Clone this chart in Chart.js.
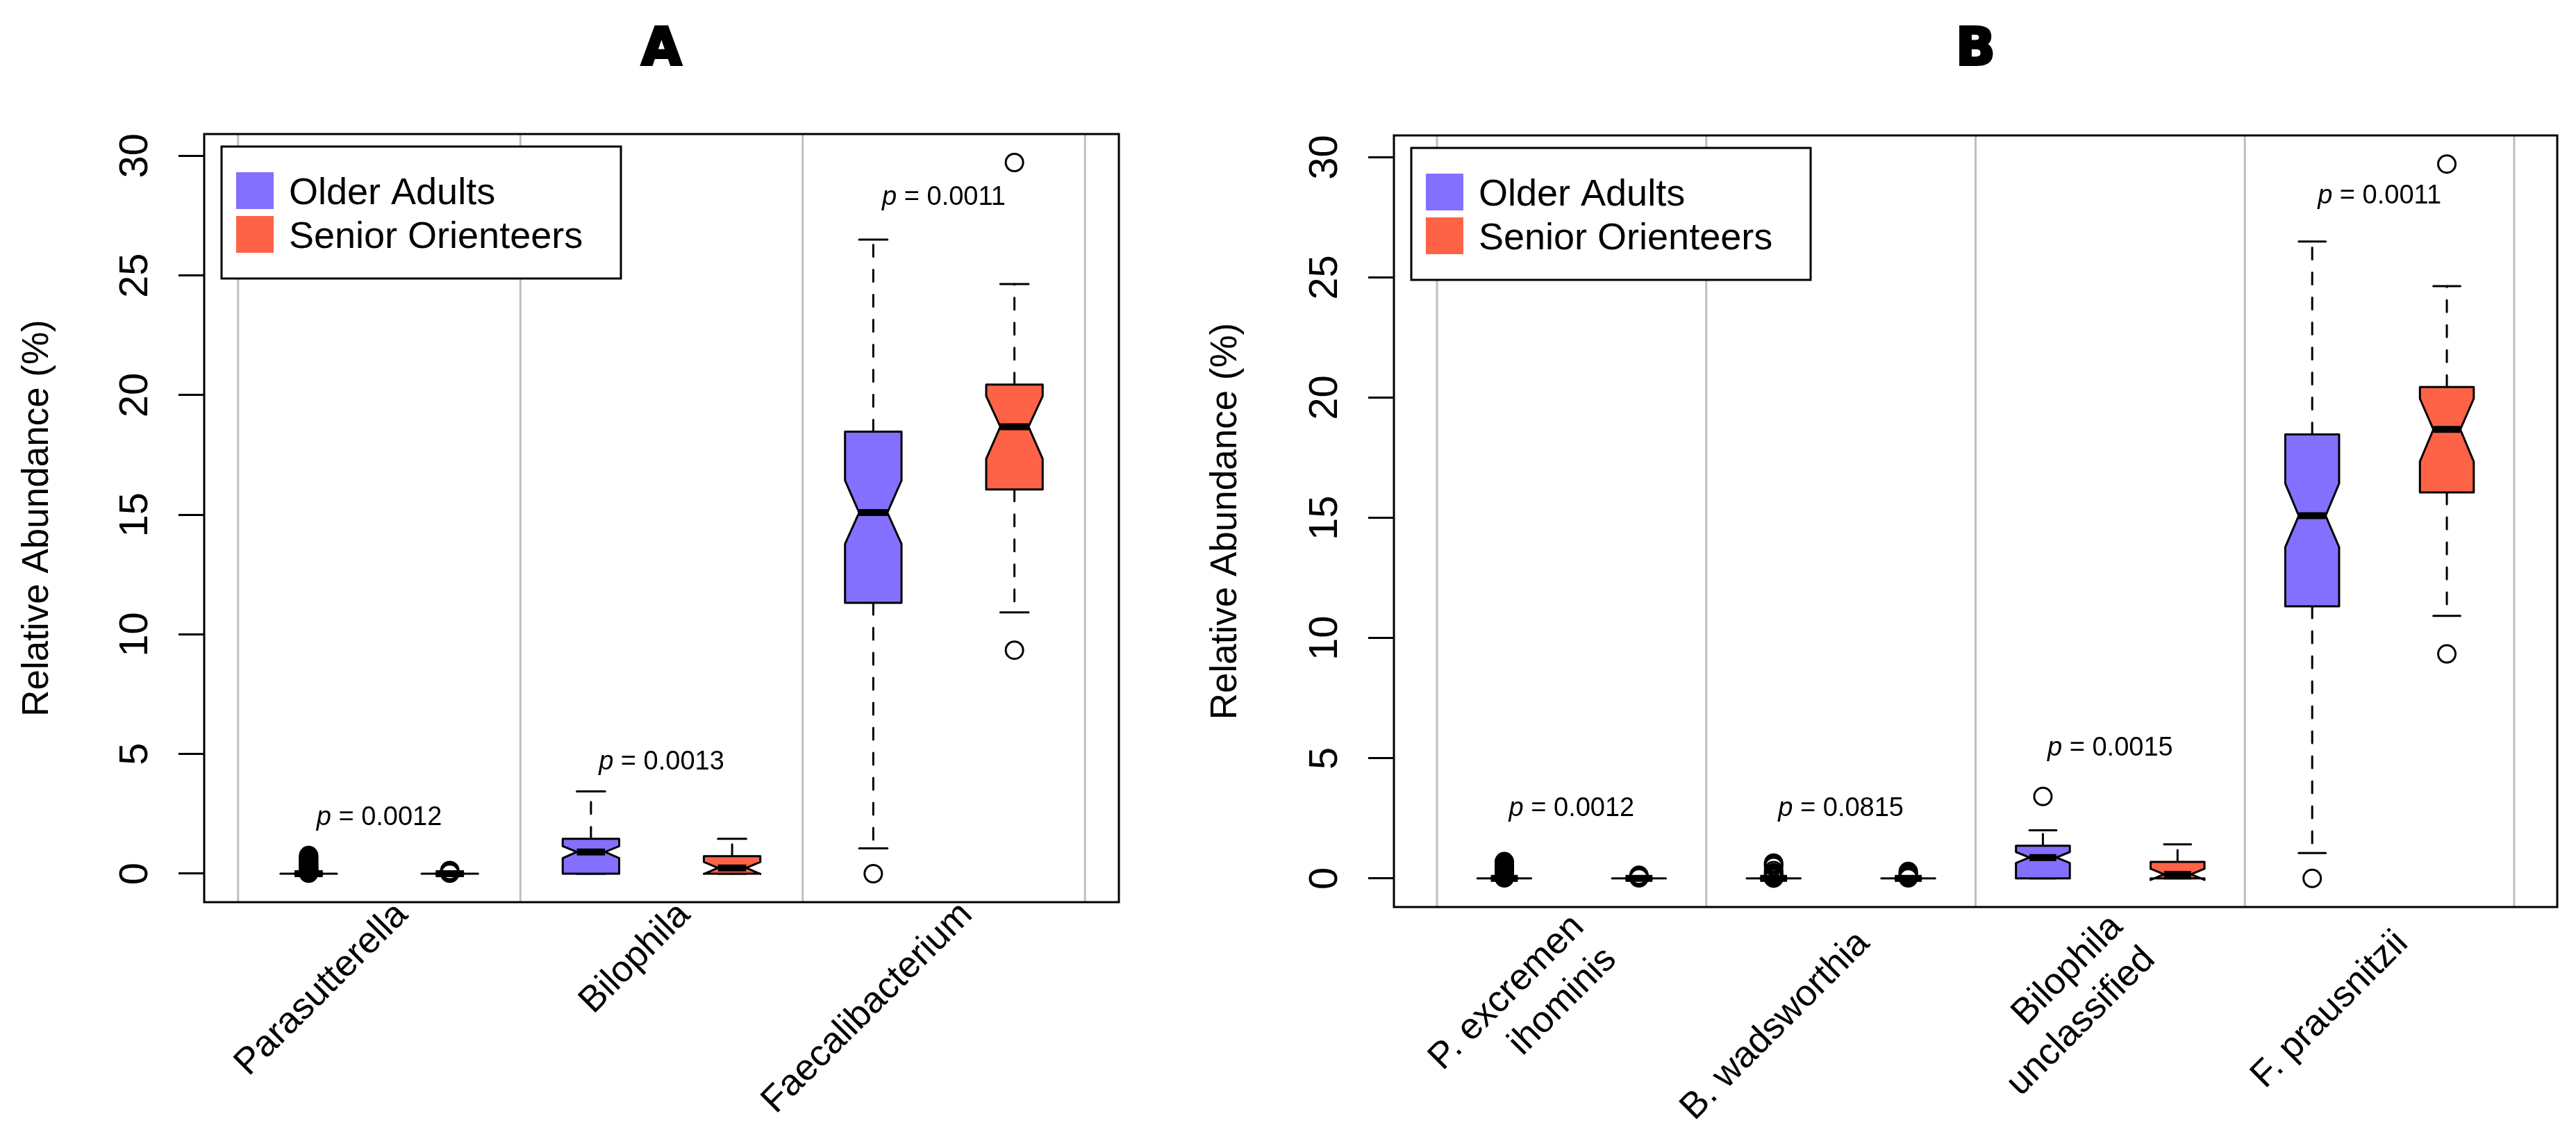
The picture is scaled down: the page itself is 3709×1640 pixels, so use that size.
<!DOCTYPE html>
<html>
<head>
<meta charset="utf-8">
<script src="https://cdn.jsdelivr.net/npm/chart.js@4.4.1/dist/chart.umd.min.js"></script>
<style>
  html, body { margin: 0; padding: 0; background: #fff; }
  body { width: 3709px; height: 1640px; position: relative; overflow: hidden; }
  canvas { position: absolute; top: 0; }
</style>
</head>
<body>
<canvas id="panelA" width="1700" height="1640" style="left:0px"></canvas>
<canvas id="panelB" width="2009" height="1640" style="left:1700px"></canvas>
<script>
// Notched boxplots of relative abundance, two panels (A: genera, B: species)

const seriesNames = ["Older Adults", "Senior Orienteers"];
const seriesColors = ["#8470ff", "#ff6347"];
const yTicks = [0, 5, 10, 15, 20, 25, 30];
const yLimits = [-1.19, 30.91];

// each box: [lower whisker, Q1, notch low, median, notch high, Q3, upper whisker]
const labelsA = ["Parasutterella", "Bilophila", "Faecalibacterium"];
const olderBoxA = [
  [0, 0, 0, 0, 0, 0, 0],
  [0, 0, 0.65, 0.91, 1.15, 1.46, 3.44],
  [1.06, 11.32, 13.78, 15.09, 16.43, 18.47, 26.5],
];
const seniorBoxA = [
  [0, 0, 0, 0, 0, 0, 0],
  [0, 0, -0.01, 0.24, 0.49, 0.73, 1.46],
  [10.92, 16.06, 17.34, 18.68, 19.96, 20.44, 24.64],
];
const olderOutA = [
  [0.02, 0.05, 0.08, 0.11, 0.15, 0.19, 0.24, 0.29, 0.34, 0.4, 0.46, 0.52, 0.58, 0.64, 0.7, 0.76],
  [],
  [0],
];
const seniorOutA = [[0.02, 0.07, 0.13], [], [9.34, 29.72]];
const pValuesA = ["0.0012", "0.0013", "0.0011"];
const pHeightsA = [2.35, 4.65, 28.26];

const labelsB = [["P. excremen", "ihominis"], "B. wadsworthia", ["Bilophila", "unclassified"], "F. prausnitzii"];
const olderBoxB = [
  [0, 0, 0, 0, 0, 0, 0],
  [0, 0, 0, 0, 0, 0, 0],
  [0, 0, 0.64, 0.87, 1.1, 1.36, 2.0],
  [1.06, 11.32, 13.78, 15.09, 16.43, 18.47, 26.5],
];
const seniorBoxB = [
  [0, 0, 0, 0, 0, 0, 0],
  [0, 0, 0, 0, 0, 0, 0],
  [0, 0, -0.06, 0.17, 0.4, 0.69, 1.42],
  [10.92, 16.06, 17.34, 18.68, 19.96, 20.44, 24.64],
];
const olderOutB = [
  [0.02, 0.05, 0.08, 0.11, 0.15, 0.19, 0.24, 0.29, 0.34, 0.4, 0.46, 0.52, 0.58, 0.64, 0.7],
  [0.01, 0.04, 0.08, 0.12, 0.17, 0.23, 0.33, 0.5, 0.58, 0.64],
  [3.41],
  [0],
];
const seniorOutB = [[0.02, 0.07, 0.13], [0.02, 0.08, 0.15, 0.22, 0.29], [], [9.34, 29.72]];
const pValuesB = ["0.0012", "0.0815", "0.0015", "0.0011"];
const pHeightsB = [2.89, 2.89, 5.4, 28.38];

const FONT = "'Liberation Sans', Arial, Helvetica, sans-serif";
const boxOffsets = [0.25, 0.75];
const boxHalf = 0.1;

Chart.defaults.font.family = FONT;
Chart.defaults.color = "#000";

function line(ctx, x1, y1, x2, y2) {
  ctx.beginPath();
  ctx.moveTo(x1, y1);
  ctx.lineTo(x2, y2);
  ctx.stroke();
}

// one notched box with dashed whiskers and staples
function drawBox(ctx, xs, ys, center, s, color) {
  const [wlo, q1, nlo, med, nhi, q3, whi] = s;
  const y = (v) => ys.getPixelForValue(v);
  const xc = xs.getPixelForValue(center);
  const xl = xs.getPixelForValue(center - boxHalf);
  const xr = xs.getPixelForValue(center + boxHalf);
  const il = xs.getPixelForValue(center - boxHalf / 2);
  const ir = xs.getPixelForValue(center + boxHalf / 2);

  ctx.strokeStyle = "#000";
  ctx.lineWidth = 3;
  ctx.lineCap = "round";
  ctx.setLineDash([17, 19]);
  line(ctx, xc, y(q3), xc, y(whi));
  line(ctx, xc, y(q1), xc, y(wlo));
  ctx.setLineDash([]);
  line(ctx, il, y(whi), ir, y(whi));
  line(ctx, il, y(wlo), ir, y(wlo));

  ctx.lineJoin = "round";
  ctx.beginPath();
  ctx.moveTo(xl, y(q1));
  ctx.lineTo(xl, y(nlo));
  ctx.lineTo(il, y(med));
  ctx.lineTo(xl, y(nhi));
  ctx.lineTo(xl, y(q3));
  ctx.lineTo(xr, y(q3));
  ctx.lineTo(xr, y(nhi));
  ctx.lineTo(ir, y(med));
  ctx.lineTo(xr, y(nlo));
  ctx.lineTo(xr, y(q1));
  ctx.closePath();
  ctx.fillStyle = color;
  ctx.fill();
  ctx.stroke();

  ctx.lineCap = "butt";
  ctx.lineWidth = 10;
  line(ctx, il, y(med), ir, y(med));
}

function panelPlugin(cfg) {
  return {
    id: "panel" + cfg.title,
    beforeDatasetsDraw(chart) {
      const { ctx, chartArea, scales } = chart;
      ctx.save();
      ctx.strokeStyle = "#bebebe";
      ctx.lineWidth = 3;
      for (let g = 0; g <= cfg.labels.length; g++) {
        const px = scales.x.getPixelForValue(g);
        line(ctx, px, chartArea.top, px, chartArea.bottom);
      }
      [cfg.older, cfg.senior].forEach((boxes, si) => {
        boxes.forEach((s, gi) => drawBox(ctx, scales.x, scales.y, gi + boxOffsets[si], s, seriesColors[si]));
      });
      ctx.restore();
    },
    afterDraw(chart) {
      const { ctx, chartArea, scales } = chart;
      const xs = scales.x, ys = scales.y;
      ctx.save();

      // frame
      ctx.strokeStyle = "#000";
      ctx.lineWidth = 3;
      ctx.strokeRect(chartArea.left, chartArea.top, chartArea.right - chartArea.left, chartArea.bottom - chartArea.top);

      // p-values
      ctx.fillStyle = "#000";
      ctx.textBaseline = "middle";
      ctx.textAlign = "left";
      cfg.pValues.forEach((p, g) => {
        const px = xs.getPixelForValue(g + 0.5);
        const py = ys.getPixelForValue(cfg.pHeights[g]);
        const rest = " = " + p;
        ctx.font = "italic 38px " + FONT;
        const w1 = ctx.measureText("p").width;
        ctx.font = "38px " + FONT;
        const w2 = ctx.measureText(rest).width;
        const start = px - (w1 + w2) / 2;
        ctx.font = "italic 38px " + FONT;
        ctx.fillText("p", start, py);
        ctx.font = "38px " + FONT;
        ctx.fillText(rest, start + w1, py);
      });

      // legend
      const lx = chartArea.left + 25, ly = chartArea.top + 18;
      ctx.fillStyle = "#fff";
      ctx.fillRect(lx, ly, 575, 190);
      ctx.strokeRect(lx, ly, 575, 190);
      ctx.font = "54px " + FONT;
      seriesNames.forEach((name, i) => {
        ctx.fillStyle = seriesColors[i];
        ctx.fillRect(lx + 21, ly + 37 + i * 63, 54, 53);
        ctx.fillStyle = "#000";
        ctx.fillText(name, lx + 97, ly + 68 + i * 63);
      });

      // rotated y tick labels
      ctx.font = "58px " + FONT;
      ctx.textAlign = "center";
      ctx.textBaseline = "alphabetic";
      ys.ticks.forEach((t) => {
        ctx.save();
        ctx.translate(chartArea.left - 82, ys.getPixelForValue(t.value));
        ctx.rotate(-Math.PI / 2);
        ctx.fillText(String(t.value), 0, 0);
        ctx.restore();
      });

      // category labels at 45 degrees
      ctx.font = "53px " + FONT;
      ctx.textAlign = "right";
      ctx.textBaseline = "middle";
      cfg.labels.forEach((lab, g) => {
        const lines = Array.isArray(lab) ? lab : [lab];
        ctx.save();
        ctx.translate(xs.getPixelForValue(g + 0.5) + 33, chartArea.bottom + cfg.labelDrop);
        ctx.rotate(-Math.PI / 4);
        lines.forEach((txt, i) => ctx.fillText(txt, 0, (i - (lines.length - 1) / 2) * 66));
        ctx.restore();
      });

      // panel letter, heavy face
      ctx.font = "bold 74px 'DejaVu Sans', " + FONT;
      ctx.textAlign = "center";
      ctx.lineWidth = 4;
      ctx.lineJoin = "miter";
      const tx = (chartArea.left + chartArea.right) / 2;
      ctx.fillText(cfg.title, tx, 74);
      ctx.strokeText(cfg.title, tx, 74);
      ctx.restore();
    },
  };
}

function outlierPoints(lists, si) {
  return lists.flatMap((vals, gi) => vals.map((v) => ({ x: gi + boxOffsets[si], y: v })));
}

function buildPanel(canvasId, cfg) {
  const datasets = [cfg.olderOut, cfg.seniorOut].map((lists, si) => ({
    label: seriesNames[si],
    data: outlierPoints(lists, si),
    pointStyle: "circle",
    pointRadius: 12.5,
    pointBorderWidth: 3,
    pointBorderColor: "#000",
    pointBackgroundColor: "rgba(0,0,0,0)",
    showLine: false,
  }));

  return new Chart(document.getElementById(canvasId), {
    type: "scatter",
    data: { datasets: datasets },
    options: {
      responsive: false,
      animation: false,
      devicePixelRatio: 1,
      layout: { padding: cfg.padding },
      plugins: { legend: { display: false }, tooltip: { enabled: false } },
      scales: {
        x: {
          type: "linear",
          min: cfg.xLimits[0],
          max: cfg.xLimits[1],
          grid: { display: false },
          border: { display: false },
          ticks: { display: false },
          afterFit: (s) => { s.height = 300; },
        },
        y: {
          type: "linear",
          min: yLimits[0],
          max: yLimits[1],
          afterBuildTicks: (s) => { s.ticks = yTicks.map((v) => ({ value: v })); },
          grid: { display: true, drawOnChartArea: false, drawTicks: true, tickLength: 37, color: "#000", lineWidth: 3 },
          border: { display: false },
          ticks: { display: false },
          title: { display: true, text: "Relative Abundance (%)", font: { size: 53 }, color: "#000", padding: 0 },
          afterFit: (s) => { s.width = cfg.axisWidth; },
        },
      },
    },
    plugins: [panelPlugin(cfg)],
  });
}

buildPanel("panelA", {
  title: "A",
  labels: labelsA,
  older: olderBoxA,
  senior: seniorBoxA,
  olderOut: olderOutA,
  seniorOut: seniorOutA,
  pValues: pValuesA,
  pHeights: pHeightsA,
  xLimits: [-0.12, 3.12],
  padding: { left: 23, top: 193, right: 89, bottom: 41 },
  axisWidth: 271,
  labelDrop: 10,
});

buildPanel("panelB", {
  title: "B",
  labels: labelsB,
  older: olderBoxB,
  senior: seniorBoxB,
  olderOut: olderOutB,
  seniorOut: seniorOutB,
  pValues: pValuesB,
  pHeights: pHeightsB,
  xLimits: [-0.16, 4.16],
  padding: { left: 34, top: 195, right: 27, bottom: 34 },
  axisWidth: 273,
  labelDrop: 44,
});
</script>
</body>
</html>
